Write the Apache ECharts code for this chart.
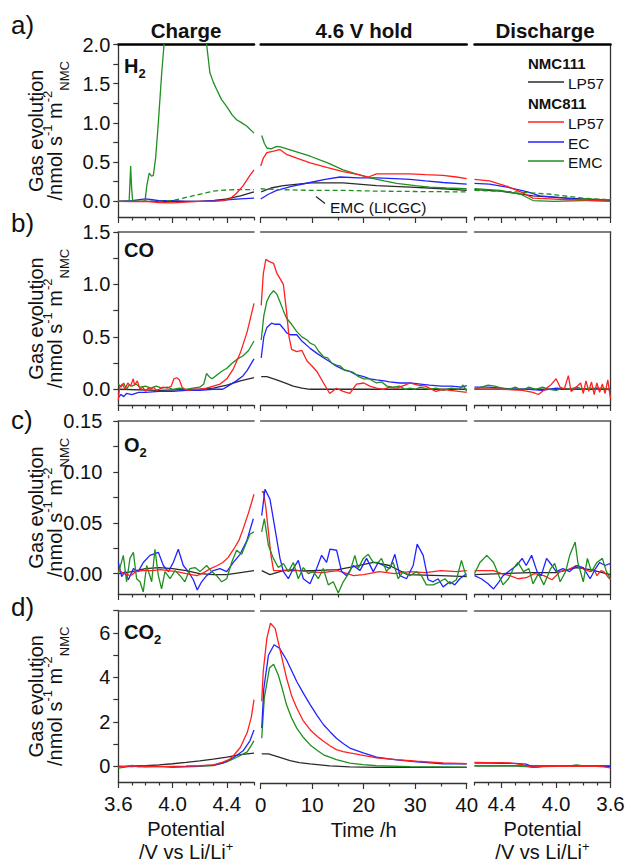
<!DOCTYPE html>
<html><head><meta charset="utf-8">
<script src="https://cdn.jsdelivr.net/npm/echarts@6/dist/echarts.min.js"></script>
<style>html,body{margin:0;padding:0;background:#fff}#c{width:629px;height:864px}</style>
</head><body><div id="c"></div>
<script>
// ===== Tick labels =====
const chargeTickLabels = [3.6, 4.0, 4.4];
const chargeMinorTicks = [3.7, 3.8, 3.9, 4.1, 4.2, 4.3, 4.5, 4.6];
const holdTickLabels = [0, 10, 20, 30, 40];
const holdMinorTicks = [5, 15, 25, 35];
const dischargeTickLabels = [4.4, 4.0, 3.6];
const dischargeMinorTicks = [4.6, 4.5, 4.3, 4.2, 4.1, 3.9, 3.8, 3.7];
const h2YLabels = [0, 0.5, 1.0, 1.5, 2.0];
const coYLabels = [0, 0.5, 1.0, 1.5];
const o2YLabels = [0, 0.05, 0.10, 0.15];
const co2YLabels = [0, 2, 4, 6];
const h2YTicks = [0, 0.25, 0.5, 0.75, 1.0, 1.25, 1.5, 1.75, 2.0];
const coYTicks = [0, 0.25, 0.5, 0.75, 1.0, 1.25, 1.5];
const o2YTicks = [0, 0.025, 0.05, 0.075, 0.1, 0.125, 0.15];
const co2YTicks = [0, 1, 2, 3, 4, 5, 6, 7];

// ===== a) H2 =====
const h2ChgK = [[3.6,0],[3.8,0],[4.0,0],[4.2,0.0],[4.3,0.01],[4.4,0.03],[4.5,0.07],[4.6,0.12]];
const h2ChgR = [[3.6,0],[3.7,-0.005],[3.8,0],[3.9,-0.015],[4.0,-0.02],[4.1,-0.01],[4.2,0],[4.3,0],[4.38,0.01],[4.42,0.03],[4.47,0.1],[4.52,0.2],[4.57,0.33],[4.6,0.4]];
const h2ChgB = [[3.6,0],[3.7,0.01],[3.8,0.03],[3.85,0.02],[3.9,0.01],[4.0,0.01],[4.1,0],[4.2,0],[4.3,0.01],[4.4,0.02],[4.5,0.03],[4.6,0.04]];
const h2ChgG = [[3.6,0],[3.68,0],[3.685,0.2],[3.691,0.45],[3.697,0.2],[3.706,0],[3.797,0],[3.81,0.2],[3.828,0.36],[3.845,0.32],[3.858,0.33],[3.875,0.55],[3.895,1.0],[3.92,1.64],[3.937,2.0],[3.96,2.8],[4.0,3.6],[4.1,3.9],[4.2,3.0],[4.251,2.0],[4.275,1.64],[4.3,1.52],[4.324,1.43],[4.36,1.3],[4.398,1.21],[4.44,1.1],[4.472,1.04],[4.51,1.0],[4.546,0.96],[4.6,0.87]];
const h2ChgGd = [[3.6,0],[3.9,0],[4.0,0.01],[4.1,0.05],[4.2,0.09],[4.3,0.13],[4.4,0.145],[4.5,0.15],[4.6,0.15]];
const h2HoldK = [[0.1,0.12],[2,0.17],[4.4,0.2],[9.6,0.235],[16,0.235],[22.5,0.2],[29,0.18],[35.4,0.16],[40,0.14]];
const h2HoldR = [[0,0.45],[0.5,0.55],[1.2,0.62],[2.5,0.64],[3.7,0.66],[5,0.6],[7,0.55],[9.6,0.49],[13,0.43],[16,0.38],[19,0.34],[20.9,0.31],[22.5,0.35],[26,0.35],[29,0.35],[32,0.34],[35.4,0.33],[38,0.31],[40,0.29]];
const h2HoldB = [[0,0.03],[1.5,0.09],[3.1,0.14],[6,0.19],[9.6,0.24],[12.5,0.28],[15.4,0.31],[19,0.3],[22.5,0.3],[26,0.29],[29,0.28],[32,0.26],[35.4,0.24],[40,0.22]];
const h2HoldG = [[0.2,0.84],[0.7,0.74],[1.2,0.68],[2,0.67],[3.1,0.7],[4,0.69],[6.5,0.64],[9.6,0.575],[13,0.49],[16,0.4],[18.5,0.35],[21.2,0.3],[24,0.26],[26.4,0.23],[30,0.2],[32.8,0.18],[36,0.17],[40,0.16]];
const h2HoldGd = [[0,0.16],[3,0.15],[9.6,0.14],[16,0.14],[22.5,0.13],[30,0.125],[40,0.12]];
const h2DisK = [[4.6,0.15],[4.41,0.13],[4.29,0.1],[4.17,0.07],[3.92,0.04],[3.67,0.02],[3.6,0.01]];
const h2DisR = [[4.6,0.28],[4.49,0.26],[4.36,0.19],[4.26,0.12],[4.17,0.04],[4.04,0.03],[3.92,0.02],[3.8,0.02],[3.6,0.0]];
const h2DisB = [[4.6,0.23],[4.49,0.22],[4.36,0.18],[4.21,0.12],[4.12,0.07],[3.92,0.04],[3.75,0.01],[3.6,0.005]];
const h2DisG = [[4.6,0.16],[4.41,0.14],[4.26,0.09],[4.17,0.01],[4.02,0.0],[3.8,0.01],[3.6,0.02]];
const h2DisGd = [[4.6,0.14],[4.29,0.12],[4.04,0.09],[3.8,0.04],[3.6,0.02]];

// ===== b) CO =====
const coChgK = [[3.6,0],[3.9,-0.01],[4.2,0.0],[4.3,0.01],[4.4,0.04],[4.5,0.08],[4.6,0.11]];
const coChgR = [[3.6,-0.1],[3.61,0.02],[3.63,0.05],[3.65,0.0],[3.67,0.06],[3.69,0.03],[3.71,0.1],[3.72,0.04],[3.74,0.08],[3.76,0.0],[3.78,0.02],[3.8,-0.02],[3.82,0.01],[3.84,0.0],[3.86,0.02],[3.88,-0.01],[3.9,0.0],[3.93,0.02],[3.96,0.01],[3.99,0.03],[4.01,0.1],[4.03,0.11],[4.05,0.09],[4.07,0.02],[4.09,0.0],[4.12,-0.01],[4.15,0.0],[4.2,0.0],[4.25,0.01],[4.3,0.03],[4.35,0.05],[4.4,0.1],[4.45,0.2],[4.5,0.35],[4.55,0.55],[4.6,0.82]];
const coChgB = [[3.6,-0.08],[3.62,-0.05],[3.64,-0.07],[3.66,-0.04],[3.7,-0.05],[3.75,-0.03],[3.8,-0.03],[3.9,-0.02],[4.0,-0.02],[4.1,-0.01],[4.2,-0.01],[4.3,0.0],[4.37,0.0],[4.42,0.04],[4.47,0.08],[4.52,0.13],[4.55,0.18],[4.6,0.29]];
const coChgG = [[3.6,0.05],[3.62,0.02],[3.64,0.06],[3.66,0.0],[3.68,0.04],[3.7,0.03],[3.73,0.05],[3.76,0.02],[3.8,0.03],[3.84,0.01],[3.88,0.03],[3.92,0.01],[3.96,0.02],[4.0,0.0],[4.05,0.01],[4.1,0.0],[4.15,0.01],[4.2,0.02],[4.23,0.05],[4.25,0.15],[4.27,0.12],[4.29,0.1],[4.32,0.13],[4.36,0.17],[4.4,0.2],[4.44,0.25],[4.48,0.29],[4.52,0.32],[4.56,0.37],[4.6,0.46]];
const coHoldK = [[0.1,0.12],[1.2,0.12],[3.1,0.09],[4.7,0.06],[6.3,0.03],[8,0.01],[9.6,0.0],[20,0.0],[30,0.0],[40,0.0]];
const coHoldR = [[0.1,0.8],[0.5,1.1],[1.0,1.24],[1.6,1.22],[2.5,1.2],[3.2,1.1],[3.7,1.06],[4.4,1.0],[5.0,0.75],[5.5,0.5],[6,0.38],[7,0.36],[8,0.37],[9,0.27],[10,0.22],[10.9,0.17],[12.2,0.06],[13.4,-0.04],[14.7,0.01],[16,-0.02],[17.3,-0.04],[18.6,0.05],[20,0.06],[21.2,0.03],[22.5,0.01],[23.8,0.0],[25,0.02],[26.4,0.01],[28,0.04],[29,0.06],[30.5,0.04],[32,0.03],[34,-0.02],[35.5,0.0],[36.7,-0.01],[38.5,-0.02],[40,-0.03]];
const coHoldB = [[0.1,0.3],[0.6,0.5],[1.2,0.59],[2.1,0.63],[2.8,0.62],[3.7,0.62],[4.4,0.58],[5,0.54],[5.7,0.52],[7,0.52],[8,0.46],[9.6,0.39],[11,0.34],[12.2,0.3],[13.5,0.26],[14.7,0.22],[16,0.19],[17.3,0.17],[18.5,0.14],[20,0.12],[21.2,0.1],[22.5,0.09],[24,0.08],[25,0.07],[27,0.06],[29,0.06],[31,0.05],[32.8,0.04],[35,0.03],[37,0.03],[39,0.02],[40,0.035]];
const coHoldG = [[0.1,0.47],[0.6,0.7],[1.2,0.84],[1.8,0.9],[2.5,0.94],[3.1,0.91],[3.7,0.84],[4.4,0.75],[5,0.68],[6,0.62],[7,0.55],[8,0.5],[9,0.47],[9.6,0.44],[10.5,0.42],[11.3,0.36],[12.2,0.31],[13,0.3],[13.8,0.25],[14.7,0.23],[15.5,0.22],[16.3,0.18],[17.3,0.17],[18,0.16],[19,0.12],[20,0.1],[21,0.1],[22.5,0.06],[23.5,0.07],[24.5,0.03],[25.7,0.02],[27,0.03],[28,0.0],[29,0.01],[30,0.0],[31,0.02],[32.8,0.0],[34,0.01],[35.5,-0.01],[37,0.01],[38.5,0.0],[39.3,0.04],[40,-0.02]];
const coDisK = [[4.6,0.0],[4.0,0.0],[3.6,0.0]];
const coDisR = [[4.6,0.0],[4.4,0.0],[4.25,-0.01],[4.17,-0.03],[4.13,-0.05],[4.09,-0.01],[4.04,0.04],[4.0,0.1],[3.97,0.02],[3.94,0.0],[3.91,0.13],[3.89,-0.02],[3.86,0.01],[3.82,0.06],[3.8,-0.04],[3.78,0.08],[3.76,-0.02],[3.74,0.07],[3.72,-0.05],[3.7,0.06],[3.68,-0.03],[3.66,0.05],[3.64,-0.04],[3.62,0.09],[3.6,-0.09]];
const coDisB = [[4.6,0.02],[4.5,0.02],[4.4,0.01],[4.3,0.0],[4.2,0.0],[4.1,-0.01],[4.0,0.01],[3.9,0.0],[3.8,0.0],[3.7,0.01],[3.6,0.0]];
const coDisG = [[4.6,0.0],[4.55,0.02],[4.5,0.04],[4.45,0.03],[4.4,0.01],[4.35,0.0],[4.3,0.02],[4.25,-0.01],[4.2,0.02],[4.15,0.0],[4.1,0.02],[4.05,0.0],[4.0,-0.01],[3.95,0.01],[3.9,0.0],[3.85,0.02],[3.8,0.0],[3.75,0.01],[3.7,0.0],[3.65,0.01],[3.6,-0.01]];

// ===== c) O2 =====
const o2ChgK = [[3.6,0.0],[3.7,0.002],[3.8,0.005],[3.9,0.006],[4.0,0.005],[4.1,0.003],[4.2,0.0],[4.3,-0.001],[4.4,-0.001],[4.5,0.001],[4.6,0.003]];
const o2ChgR = [[3.6,0.002],[3.61,0.003],[3.64,0.0],[3.69,-0.002],[3.73,0.002],[3.78,0.003],[3.85,0.003],[3.91,0.004],[3.97,0.003],[4.03,0.002],[4.1,0.0],[4.18,-0.002],[4.23,0.001],[4.28,0.005],[4.33,0.008],[4.37,0.011],[4.41,0.016],[4.45,0.024],[4.49,0.033],[4.52,0.044],[4.56,0.06],[4.6,0.078]];
const o2ChgB = [[3.6,0.011],[3.625,-0.003],[3.649,0.002],[3.674,-0.006],[3.711,0.005],[3.747,0.002],[3.784,0.011],[3.833,0.018],[3.895,0.021],[3.932,0.008],[3.969,0.002],[4.005,0.011],[4.042,0.024],[4.079,0.008],[4.116,0.002],[4.153,-0.006],[4.182,-0.016],[4.214,-0.008],[4.251,-0.002],[4.3,0.003],[4.349,0.005],[4.399,0.002],[4.448,0.011],[4.497,0.019],[4.546,0.032],[4.595,0.054]];
const o2ChgG = [[3.6,0.0],[3.637,0.018],[3.661,-0.008],[3.686,0.015],[3.711,0.021],[3.735,-0.005],[3.76,-0.008],[3.784,-0.018],[3.809,0.008],[3.846,-0.008],[3.87,0.024],[3.895,-0.002],[3.919,-0.015],[3.944,0.002],[3.981,-0.005],[4.018,0.003],[4.055,-0.002],[4.091,-0.008],[4.128,0.005],[4.165,0.006],[4.202,0.002],[4.251,0.008],[4.288,0.002],[4.325,-0.002],[4.362,-0.008],[4.399,-0.005],[4.435,0.011],[4.472,0.023],[4.509,0.019],[4.546,0.031],[4.571,0.039],[4.6,0.041]];
const o2HoldK = [[0.2,0.003],[1.8,-0.001],[4.4,0.003],[10,0.003],[15,0.004],[18,0.007],[21.9,0.011],[25,0.008],[28.5,-0.001],[35,-0.002],[40,-0.003]];
const o2HoldR = [[0.2,0.08],[0.5,0.081],[1.0,0.065],[1.5,0.041],[2.0,0.018],[2.5,0.003],[3.7,0.003],[6,0.004],[9,0.002],[12,0.001],[15,0.003],[18,-0.002],[20,-0.001],[23,0.002],[26,0.0],[29,0.002],[32,0.001],[35,0.003],[38,0.002],[40,0.003]];
const o2HoldB = [[0.19,0.057],[0.84,0.083],[1.81,0.073],[2.78,0.044],[3.75,0.015],[4.4,0.002],[5.37,-0.005],[6.33,0.005],[7.3,0.013],[8.27,-0.005],[9.57,-0.01],[10.86,0.005],[11.83,0.018],[12.8,0.011],[13.45,0.024],[14.74,0.023],[15.71,0.002],[16.68,-0.002],[17.97,0.008],[19.26,0.003],[20.56,0.015],[21.85,0.002],[22.82,0.011],[23.79,0.008],[25.08,0.005],[26.05,0.019],[27.02,-0.002],[28.31,-0.005],[29.61,0.008],[30.38,0.029],[31.55,0.018],[32.51,-0.006],[33.48,-0.008],[34.45,-0.005],[35.42,-0.013],[36.72,-0.008],[37.69,-0.011],[38.66,-0.005],[39.95,0.0]];
const o2HoldG = [[0.19,0.041],[0.71,0.054],[1.49,0.028],[2.46,0.015],[3.43,0.006],[4.4,0.01],[5.37,0.002],[6.33,0.011],[7.3,-0.005],[8.27,0.006],[9.24,0.0],[10.21,0.002],[11.18,-0.005],[12.15,0.005],[13.12,-0.011],[14.09,-0.008],[15.06,-0.019],[16.03,-0.008],[17.32,0.002],[18.29,0.018],[18.94,0.005],[19.91,0.015],[20.88,0.019],[21.85,0.011],[22.82,0.011],[23.47,0.015],[24.43,0.002],[25.73,0.011],[26.7,-0.005],[27.67,0.002],[28.96,-0.002],[30.25,0.002],[31.22,-0.002],[32.19,-0.011],[33.48,-0.011],[34.78,-0.008],[35.75,-0.005],[36.72,-0.01],[38.01,-0.006],[38.98,0.013],[39.62,0.002],[39.95,-0.003]];
const o2DisK = [[4.6,-0.001],[4.4,0.0],[4.2,0.001],[4.0,0.001],[3.85,0.006],[3.75,0.004],[3.6,-0.001]];
const o2DisR = [[4.6,0.003],[4.46,0.003],[4.4,0.0],[4.34,-0.002],[4.28,-0.005],[4.22,-0.004],[4.16,0.0],[4.09,-0.002],[4.03,-0.006],[3.97,0.002],[3.91,0.004],[3.85,0.008],[3.8,0.005],[3.75,0.002],[3.72,0.004],[3.7,-0.002],[3.67,0.003],[3.65,0.002],[3.62,-0.003],[3.6,-0.006]];
const o2DisB = [[4.6,-0.002],[4.55,-0.005],[4.5,-0.01],[4.46,-0.015],[4.42,-0.008],[4.39,-0.002],[4.34,0.003],[4.29,0.008],[4.25,0.015],[4.22,0.008],[4.18,0.018],[4.14,0.002],[4.11,-0.002],[4.07,0.015],[4.03,0.008],[4.0,0.002],[3.95,0.005],[3.9,0.002],[3.85,0.008],[3.8,0.006],[3.75,-0.005],[3.71,0.005],[3.68,0.011],[3.64,0.008],[3.6,0.01]];
const o2DisG = [[4.6,0.0],[4.56,0.011],[4.51,0.018],[4.46,0.011],[4.42,-0.002],[4.39,-0.011],[4.35,-0.005],[4.31,0.006],[4.28,0.011],[4.24,0.002],[4.2,0.005],[4.17,-0.01],[4.13,0.0],[4.09,-0.011],[4.04,0.005],[4.01,0.01],[3.97,-0.008],[3.93,0.002],[3.9,0.018],[3.86,0.031],[3.84,0.011],[3.8,-0.008],[3.77,0.015],[3.74,0.002],[3.7,0.011],[3.66,0.015],[3.63,0.002],[3.6,-0.005]];

// ===== d) CO2 =====
const co2ChgK = [[3.6,0.0],[3.7,0.01],[3.8,0.03],[3.9,0.07],[4.0,0.12],[4.1,0.18],[4.2,0.25],[4.3,0.33],[4.4,0.42],[4.5,0.53],[4.6,0.6]];
const co2ChgR = [[3.6,-0.02],[3.65,0.0],[3.7,0.03],[3.75,-0.02],[3.8,0.0],[3.9,-0.01],[4.0,0.0],[4.1,0.01],[4.2,0.03],[4.3,0.07],[4.37,0.19],[4.42,0.32],[4.45,0.49],[4.5,0.86],[4.55,1.52],[4.58,2.2],[4.6,3.0]];
const co2ChgB = [[3.6,0.0],[3.7,-0.01],[3.8,0.02],[3.9,0.0],[4.0,-0.01],[4.1,0.0],[4.2,0.02],[4.3,0.06],[4.37,0.15],[4.45,0.4],[4.52,0.7],[4.57,1.15],[4.6,1.63]];
const co2ChgG = [[3.6,-0.08],[3.65,-0.03],[3.7,0.05],[3.75,0.0],[3.8,-0.02],[3.9,0.0],[4.0,-0.04],[4.1,-0.02],[4.2,0.0],[4.3,0.04],[4.4,0.2],[4.47,0.4],[4.55,0.65],[4.6,1.15]];
const co2HoldK = [[0.2,0.6],[1.5,0.6],[3.1,0.49],[5.7,0.3],[7.5,0.21],[9.6,0.15],[13.4,0.06],[17.3,0.02],[22.5,0.0],[40,0.0]];
const co2HoldR = [[0.2,2.95],[0.5,4.3],[1.2,5.77],[1.9,6.43],[2.8,6.2],[3.7,5.3],[5,4.0],[6,3.2],[7,2.65],[8.2,2.1],[9.6,1.68],[11,1.38],[12.2,1.16],[13.5,0.95],[14.7,0.79],[16,0.7],[17.3,0.64],[19.9,0.53],[22.5,0.42],[26.4,0.34],[30.3,0.27],[35.4,0.2],[40,0.16]];
const co2HoldB = [[0.2,1.75],[0.6,3.5],[1.5,5.0],[2.6,5.47],[3.7,5.3],[5,4.8],[7,3.83],[8.3,3.3],[9.6,2.8],[11,2.3],[12.2,1.9],[13.5,1.58],[14.7,1.3],[16,1.06],[17.3,0.86],[19.9,0.64],[22.5,0.45],[26.4,0.33],[30.3,0.24],[35.4,0.16],[40,0.15]];
const co2HoldG = [[0.2,1.3],[0.7,3.1],[1.7,4.43],[2.5,4.6],[3.4,4.13],[4.2,3.5],[5,2.8],[6,2.2],[7,1.75],[8.3,1.33],[9.6,1.0],[11,0.75],[12.2,0.56],[14.7,0.34],[17.3,0.19],[19.9,0.12],[22.5,0.07],[29,0.03],[40,0.01]];
const co2DisK = [[4.6,0.02],[4.0,0.02],[3.6,0.02]];
const co2DisR = [[4.6,0.18],[4.5,0.17],[4.4,0.17],[4.34,0.16],[4.25,0.08],[4.2,0.0],[4.17,-0.03],[4.1,0.0],[4.0,0.01],[3.9,0.0],[3.8,0.01],[3.7,0.0],[3.65,-0.02],[3.6,-0.07]];
const co2DisB = [[4.6,0.15],[4.5,0.15],[4.4,0.14],[4.3,0.14],[4.22,0.1],[4.17,-0.03],[4.1,0.0],[4.0,0.0],[3.9,0.0],[3.8,0.0],[3.7,0.0],[3.6,0.0]];
const co2DisG = [[4.6,0.03],[4.4,0.03],[4.3,0.02],[4.2,-0.02],[4.17,-0.04],[4.1,-0.01],[4.0,0.0],[3.9,0.02],[3.85,0.07],[3.8,0.02],[3.7,0.01],[3.6,0.02]];

// ===== styling / layout =====
const F = '"Liberation Sans", Arial, Helvetica, sans-serif';
const K = '#2b2b2b', R = '#ff2020', B = '#2323ff', G = '#1f8f1f';
const colLeft = [118.3, 260.7, 474.5], colW = [135.7, 206, 136];
const rowTop = [44.5, 232, 421, 610.5], rowH = [172.5, 173, 173, 172.5];
const yRange = [[-0.2, 2.0], [-0.15, 1.5], [-0.02, 0.15], [-0.7, 7]];
const yLabels = [h2YLabels, coYLabels, o2YLabels, co2YLabels];
const yTicks = [h2YTicks, coYTicks, o2YTicks, co2YTicks];
const yFmt = [v => v.toFixed(1), v => v.toFixed(1), v => v.toFixed(2), v => String(Math.round(v))];
const yMargin = [8, 8, 16, 8];
const potName = '{p|Potential}\n{p|/V vs Li/Li}{sp|+}';
const xSpec = [
  {min: 3.6, max: 4.6, inverse: false, major: chargeTickLabels, minor: chargeMinorTicks, fmt: v => v.toFixed(1), name: potName},
  {min: 0, max: 40, inverse: false, major: holdTickLabels, minor: holdMinorTicks, fmt: v => String(v), name: '{p|Time /h}'},
  {min: 3.6, max: 4.6, inverse: true, major: dischargeTickLabels, minor: dischargeMinorTicks, fmt: v => v.toFixed(1), name: potName}
];
const richName = {
  p: {fontFamily: F, fontSize: 20, color: '#111', lineHeight: 23},
  sp: {fontFamily: F, fontSize: 13, color: '#111', lineHeight: 13, verticalAlign: 'top'}
};
const yName = '{m|Gas evolution}\n{n|/nmol s}{sp|-1}{n| m}{sp|-2}{sb|NMC}';
const yRich = {
  m: {fontFamily: F, fontSize: 20, color: '#111', lineHeight: 10},
  n: {fontFamily: F, fontSize: 20, color: '#111', lineHeight: 20, verticalAlign: 'top', padding: [4, 0, 0, 0]},
  sp: {fontFamily: F, fontSize: 13, color: '#111', lineHeight: 13, verticalAlign: 'top'},
  sb: {fontFamily: F, fontSize: 13, color: '#111', lineHeight: 13, verticalAlign: 'top', padding: [17, 0, 0, 0]}
};

const grids = [], xAxes = [], yAxes = [];
for (let r = 0; r < 4; r++) {
  for (let c = 0; c < 3; c++) {
    const g = r * 3 + c;
    const s = xSpec[c];
    grids.push({left: colLeft[c], top: rowTop[r], width: colW[c], height: rowH[r], containLabel: false});
    xAxes.push({
      type: 'value', gridIndex: g, min: s.min, max: s.max, inverse: s.inverse, position: 'bottom',
      axisLine: {show: true, onZero: false, lineStyle: {color: '#333', width: 1.3}},
      axisTick: {show: true, inside: false, length: 6, customValues: s.major, lineStyle: {color: '#333', width: 1.2}},
      axisLabel: {show: r === 3, customValues: s.major, formatter: s.fmt, fontFamily: F, fontSize: 20.5, color: '#111', margin: 11},
      splitLine: {show: false},
      name: r === 3 ? s.name : '', nameLocation: 'middle', nameGap: 35, nameMoveOverlap: false,
      nameTextStyle: {fontFamily: F, fontSize: 20, color: '#111', lineHeight: 23, rich: richName}
    });
    xAxes.push({
      type: 'value', gridIndex: g, min: s.min, max: s.max, inverse: s.inverse, position: 'bottom',
      axisLine: {show: false, onZero: false},
      axisTick: {show: true, inside: false, length: 3.5, customValues: s.minor, lineStyle: {color: '#333', width: 1.2}},
      axisLabel: {show: false}, splitLine: {show: false}
    });
    xAxes.push({
      type: 'value', gridIndex: g, min: s.min, max: s.max, position: 'top',
      axisLine: {show: true, onZero: false, lineStyle: {color: r === 0 ? '#000' : '#555', width: r === 0 ? 2.5 : 1.6}},
      axisTick: {show: false}, axisLabel: {show: false}, splitLine: {show: false}
    });
    const yBase = {type: 'value', gridIndex: g, min: yRange[r][0], max: yRange[r][1], splitLine: {show: false}};
    if (c === 0) {
      yAxes.push(Object.assign(yBase, {
        position: 'left',
        axisLine: {show: true, onZero: false, lineStyle: {color: '#333', width: 1.3}},
        axisTick: {show: true, inside: false, length: 5, customValues: yTicks[r], lineStyle: {color: '#333', width: 1.2}},
        axisLabel: {show: true, customValues: yLabels[r], formatter: yFmt[r], fontFamily: F, fontSize: 20, color: '#111', margin: yMargin[r]},
        name: yName, nameLocation: 'middle', nameRotate: 90, nameGap: 57, nameMoveOverlap: false,
        nameTextStyle: {fontFamily: F, fontSize: 20, color: '#111', rich: yRich}
      }));
    } else if (c === 1) {
      yAxes.push(Object.assign(yBase, {show: false}));
    } else {
      yAxes.push(Object.assign(yBase, {
        position: 'right',
        axisLine: {show: true, onZero: false, lineStyle: {color: '#333', width: 1.3}},
        axisTick: {show: false}, axisLabel: {show: false}
      }));
    }
  }
}

// [grid, data, color, dashed]
const defs = [
  [0, h2ChgK, K], [0, h2ChgB, B], [0, h2ChgGd, G, true], [0, h2ChgG, G], [0, h2ChgR, R],
  [1, h2HoldK, K], [1, h2HoldB, B], [1, h2HoldGd, G, true], [1, h2HoldG, G], [1, h2HoldR, R],
  [2, h2DisK, K], [2, h2DisB, B], [2, h2DisGd, G, true], [2, h2DisG, G], [2, h2DisR, R],
  [3, coChgK, K], [3, coChgB, B], [3, coChgG, G], [3, coChgR, R],
  [4, coHoldK, K], [4, coHoldB, B], [4, coHoldG, G], [4, coHoldR, R],
  [5, coDisK, K], [5, coDisB, B], [5, coDisG, G], [5, coDisR, R],
  [6, o2ChgK, K], [6, o2ChgB, B], [6, o2ChgG, G], [6, o2ChgR, R],
  [7, o2HoldK, K], [7, o2HoldR, R], [7, o2HoldB, B], [7, o2HoldG, G],
  [8, o2DisK, K], [8, o2DisR, R], [8, o2DisB, B], [8, o2DisG, G],
  [9, co2ChgK, K], [9, co2ChgG, G], [9, co2ChgB, B], [9, co2ChgR, R],
  [10, co2HoldK, K], [10, co2HoldG, G], [10, co2HoldB, B], [10, co2HoldR, R],
  [11, co2DisK, K], [11, co2DisG, G], [11, co2DisB, B], [11, co2DisR, R]
];
const series = defs.map(d => ({
  type: 'line', xAxisIndex: 3 * d[0], yAxisIndex: d[0], data: d[1],
  showSymbol: false, symbol: 'none', clip: true, silent: true,
  lineStyle: {color: d[2], width: 1.3, type: d[3] ? [5, 3] : 'solid'}
}));

function txt(x, y, text, o) {
  return {type: 'text', x: x, y: y, silent: true, z: 100,
    style: Object.assign({text: text, fill: '#111', fontFamily: F, fontSize: 20,
      align: 'center', verticalAlign: 'middle', textAlign: 'center', textVerticalAlign: 'middle'}, o || {})};
}
const gasRich = {
  b: {fontFamily: F, fontSize: 20, fontWeight: 'bold', fill: '#111', color: '#111', lineHeight: 20, verticalAlign: 'top'},
  s: {fontFamily: F, fontSize: 13, fontWeight: 'bold', fill: '#111', color: '#111', lineHeight: 13, verticalAlign: 'top', padding: [11, 0, 0, 0]}
};
const L = {align: 'left', textAlign: 'left'};
const graphics = [
  txt(186, 30, 'Charge', {fontWeight: 'bold', fontSize: 20.5}),
  txt(364, 30, '4.6 V hold', {fontWeight: 'bold', fontSize: 20.5}),
  txt(545, 30, 'Discharge', {fontWeight: 'bold', fontSize: 20.5}),
  txt(11, 25, 'a)', Object.assign({fontSize: 26}, L)),
  txt(11, 223, 'b)', Object.assign({fontSize: 26}, L)),
  txt(11, 420, 'c)', Object.assign({fontSize: 26}, L)),
  txt(11, 607, 'd)', Object.assign({fontSize: 26}, L)),
  txt(124, 66, '{b|H}{s|2}', Object.assign({rich: gasRich}, L)),
  txt(124, 250, '{b|CO}', Object.assign({rich: gasRich}, L)),
  txt(124, 445, '{b|O}{s|2}', Object.assign({rich: gasRich}, L)),
  txt(124, 632, '{b|CO}{s|2}', Object.assign({rich: gasRich}, L)),
  // legend
  txt(528, 63, 'NMC111', Object.assign({fontSize: 15, fontWeight: 'bold'}, L)),
  txt(568, 83, 'LP57', Object.assign({fontSize: 15.5}, L)),
  txt(528, 103, 'NMC811', Object.assign({fontSize: 15, fontWeight: 'bold'}, L)),
  txt(568, 123, 'LP57', Object.assign({fontSize: 15.5}, L)),
  txt(568, 143, 'EC', Object.assign({fontSize: 15.5}, L)),
  txt(568, 162, 'EMC', Object.assign({fontSize: 15.5}, L)),
  {type: 'line', silent: true, shape: {x1: 528, y1: 82, x2: 564, y2: 82}, style: {stroke: K, lineWidth: 1.3}},
  {type: 'line', silent: true, shape: {x1: 528, y1: 122, x2: 564, y2: 122}, style: {stroke: R, lineWidth: 1.3}},
  {type: 'line', silent: true, shape: {x1: 528, y1: 142, x2: 564, y2: 142}, style: {stroke: B, lineWidth: 1.3}},
  {type: 'line', silent: true, shape: {x1: 528, y1: 161, x2: 564, y2: 161}, style: {stroke: G, lineWidth: 1.3}},
  // annotation
  txt(330, 207, 'EMC (LICGC)', Object.assign({fontSize: 15.5}, L)),
  {type: 'line', silent: true, shape: {x1: 316, y1: 196.5, x2: 325, y2: 203.5}, style: {stroke: '#222', lineWidth: 1.2}}
];

const chart = echarts.init(document.getElementById('c'), null, {renderer: 'svg', width: 629, height: 864});
chart.setOption({
  backgroundColor: '#ffffff',
  animation: false,
  grid: grids, xAxis: xAxes, yAxis: yAxes,
  series: series,
  graphic: {elements: graphics}
});
</script></body></html>
